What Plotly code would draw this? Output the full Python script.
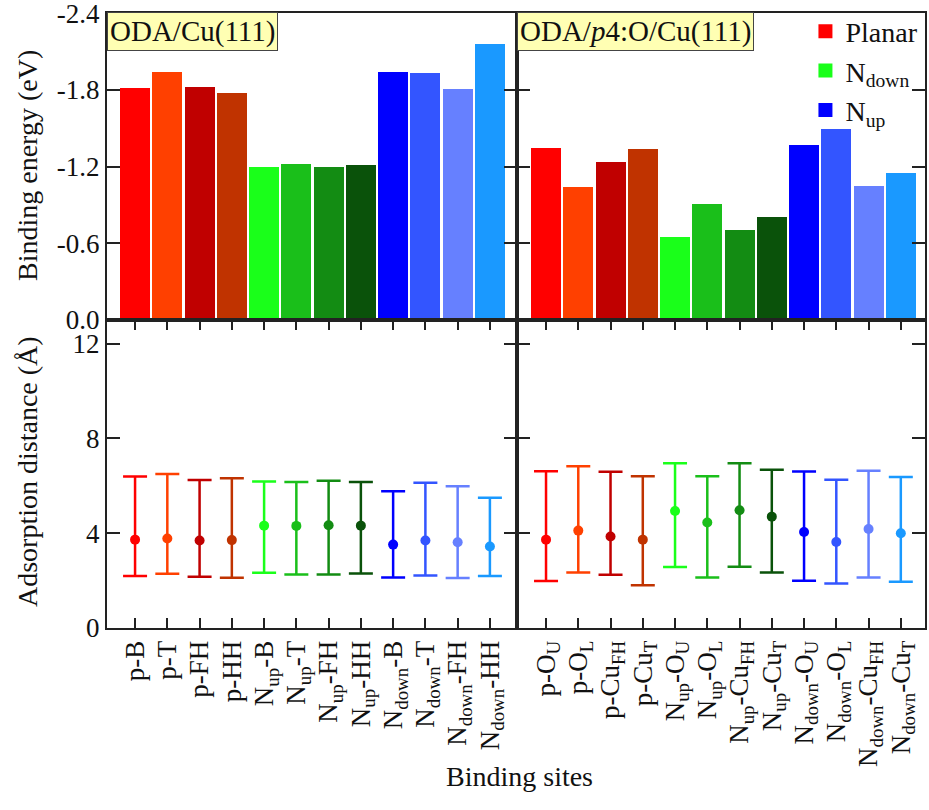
import plotly.graph_objects as go

# ---------------- data ----------------
sites_left = ["p-B", "p-T", "p-FH", "p-HH",
              "N<sub>up</sub>-B", "N<sub>up</sub>-T", "N<sub>up</sub>-FH", "N<sub>up</sub>-HH",
              "N<sub>down</sub>-B", "N<sub>down</sub>-T", "N<sub>down</sub>-FH", "N<sub>down</sub>-HH"]
sites_right = ["p-O<sub>U</sub>", "p-O<sub>L</sub>", "p-Cu<sub>FH</sub>", "p-Cu<sub>T</sub>",
               "N<sub>up</sub>-O<sub>U</sub>", "N<sub>up</sub>-O<sub>L</sub>",
               "N<sub>up</sub>-Cu<sub>FH</sub>", "N<sub>up</sub>-Cu<sub>T</sub>",
               "N<sub>down</sub>-O<sub>U</sub>", "N<sub>down</sub>-O<sub>L</sub>",
               "N<sub>down</sub>-Cu<sub>FH</sub>", "N<sub>down</sub>-Cu<sub>T</sub>"]

energy_left = [-1.815, -1.943, -1.82, -1.773, -1.198, -1.219, -1.195, -1.211,
               -1.94, -1.935, -1.81, -2.16]
energy_right = [-1.344, -1.042, -1.234, -1.336, -0.648, -0.909, -0.706, -0.807,
                -1.365, -1.49, -1.05, -1.148]

dist_left_mid = [3.73, 3.78, 3.69, 3.71, 4.32, 4.31, 4.34, 4.32, 3.52, 3.69, 3.62, 3.44]
dist_left_max = [6.39, 6.50, 6.25, 6.32, 6.18, 6.16, 6.22, 6.16, 5.77, 6.13, 5.98, 5.50]
dist_left_min = [2.19, 2.29, 2.16, 2.12, 2.33, 2.26, 2.26, 2.30, 2.13, 2.22, 2.11, 2.20]

dist_right_mid = [3.73, 4.11, 3.86, 3.73, 4.94, 4.45, 4.97, 4.70, 4.05, 3.63, 4.18, 4.00]
dist_right_max = [6.62, 6.83, 6.60, 6.41, 6.95, 6.40, 6.95, 6.68, 6.61, 6.26, 6.64, 6.37]
dist_right_min = [1.98, 2.34, 2.25, 1.80, 2.57, 2.13, 2.58, 2.34, 1.99, 1.88, 2.13, 1.95]

site_colors = ["#ff0000", "#ff4000", "#c00000", "#c03300",
               "#1aff1a", "#1abf1a", "#138c13", "#0a520a",
               "#0000ff", "#3355ff", "#6680ff", "#1a99ff"]

legend_names = ["Planar", "N<sub>down</sub>", "N<sub>up</sub>"]
legend_colors = ["#ff0000", "#1aff1a", "#0000ff"]

energy_ticks = [0.0, -0.6, -1.2, -1.8, -2.4]
energy_ticktext = ["0.0", "-0.6", "-1.2", "-1.8", "-2.4"]
dist_ticks = [0, 4, 8, 12]

panel_titles = ["ODA/Cu(111)", "ODA/<i>p</i>4:O/Cu(111)"]

# ---------------- figure ----------------
FONT = "Liberation Serif"
W, H = 929, 810
fig = go.Figure()

fig.add_trace(go.Bar(x=sites_left, y=energy_left, marker=dict(color=site_colors, line=dict(width=0)),
                     width=0.93, xaxis="x", yaxis="y", showlegend=False))
fig.add_trace(go.Bar(x=sites_right, y=energy_right, marker=dict(color=site_colors, line=dict(width=0)),
                     width=0.93, xaxis="x2", yaxis="y2", showlegend=False))

for sites, mid, hi, lo, xa, ya in [(sites_left, dist_left_mid, dist_left_max, dist_left_min, "x3", "y3"),
                                   (sites_right, dist_right_mid, dist_right_max, dist_right_min, "x4", "y4")]:
    for s, m, h, l, c in zip(sites, mid, hi, lo, site_colors):
        fig.add_trace(go.Scatter(
            x=[s], y=[m], mode="markers", xaxis=xa, yaxis=ya, showlegend=False,
            marker=dict(color=c, size=10),
            error_y=dict(type="data", symmetric=False, array=[h - m], arrayminus=[m - l],
                         color=c, thickness=2.5, width=12)))

for name, c in zip(legend_names, legend_colors):
    fig.add_trace(go.Bar(x=[None], y=[None], name=name,
                         marker=dict(color=c, line=dict(color=c, width=4)),
                         xaxis="x2", yaxis="y2", showlegend=True))

xL = [107 / W, 517 / W]
xR = [517 / W, 925 / W]
yT = [1 - 320 / H, 1 - 13 / H]
yB = [1 - 628 / H, 1 - 320 / H]

axis_common = dict(showline=True, linewidth=2, linecolor="#222",
                   showgrid=False, zeroline=False, automargin=False,
                   tickfont=dict(family=FONT, size=27, color="#111"),
                   tickcolor="#222", tickwidth=2, ticklabeloverflow="allow")

fig.update_layout(
    width=W, height=H,
    margin=dict(l=0, r=0, t=0, b=0),
    paper_bgcolor="white", plot_bgcolor="white",
    font=dict(family=FONT, size=26, color="#111"),
    bargap=0,
    xaxis=dict(domain=xL, anchor="y", type="category", range=[-0.87, 11.84],
               ticks="", showticklabels=False, mirror=True, **axis_common),
    xaxis2=dict(domain=xR, anchor="y2", type="category", range=[-0.9, 11.75],
                ticks="", showticklabels=False, mirror=True, **axis_common),
    xaxis3=dict(domain=xL, anchor="y3", type="category", range=[-0.87, 11.84],
                ticks="inside", ticklen=10, tickangle=-90, mirror="ticks", **axis_common),
    xaxis4=dict(domain=xR, anchor="y4", type="category", range=[-0.9, 11.75],
                ticks="inside", ticklen=10, tickangle=-90, mirror="ticks", **axis_common),
    yaxis=dict(domain=yT, anchor="x", range=[0.0005, -2.4008], tickvals=energy_ticks,
               ticktext=energy_ticktext, ticks="inside", ticklen=13, mirror="ticks",
               **axis_common),
    yaxis2=dict(domain=yT, anchor="x2", range=[0.0005, -2.4008], tickvals=energy_ticks,
                ticks="inside", ticklen=13, showticklabels=False, mirror="ticks", **axis_common),
    yaxis3=dict(domain=yB, anchor="x3", range=[0, 13.0], tickvals=dist_ticks,
                ticks="inside", ticklen=13, mirror="ticks", **axis_common),
    yaxis4=dict(domain=yB, anchor="x4", range=[0, 13.0], tickvals=dist_ticks,
                ticks="inside", ticklen=13, showticklabels=False, mirror="ticks", **axis_common),
    legend=dict(x=0.867, y=0.992, xanchor="left", yanchor="top",
                bgcolor="rgba(255,255,255,0)", borderwidth=0,
                font=dict(family=FONT, size=28, color="#111"),
                tracegroupgap=0, itemsizing="constant"),
)

annotations = [
    dict(text=panel_titles[0], xref="paper", yref="paper", x=107 / W, y=1 - 12 / H,
         xanchor="left", yanchor="top", showarrow=False,
         font=dict(family=FONT, size=29, color="#111"),
         bgcolor="#ffffb3", bordercolor="#444", borderwidth=1, borderpad=2),
    dict(text=panel_titles[1], xref="paper", yref="paper", x=517 / W, y=1 - 12 / H,
         xanchor="left", yanchor="top", showarrow=False,
         font=dict(family=FONT, size=29, color="#111"),
         bgcolor="#ffffb3", bordercolor="#444", borderwidth=1, borderpad=2),
    dict(text="Binding energy (eV)", xref="paper", yref="paper", x=27 / W,
         y=1 - 166 / H, textangle=-90, showarrow=False, xanchor="center", yanchor="middle",
         font=dict(family=FONT, size=28, color="#111")),
    dict(text="Adsorption distance (Å)", xref="paper", yref="paper", x=27 / W,
         y=1 - 472 / H, textangle=-90, showarrow=False, xanchor="center", yanchor="middle",
         font=dict(family=FONT, size=28, color="#111")),
    dict(text="Binding sites", xref="paper", yref="paper", x=519 / W,
         y=1 - 776 / H, showarrow=False, xanchor="center", yanchor="middle",
         font=dict(family=FONT, size=28, color="#111")),
]
fig.update_layout(annotations=annotations)

fig.write_html("out.html")
